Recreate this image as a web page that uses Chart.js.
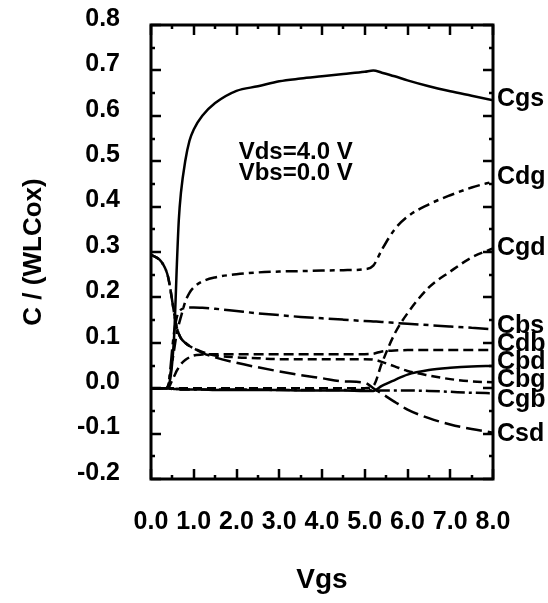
<!DOCTYPE html>
<html lang="en">
<head>
    <meta charset="UTF-8">
    <title>C / (WLCox) vs Vgs</title>
    <script src="https://cdn.jsdelivr.net/npm/chart.js"></script>
    <style>
        body {
            margin: 0;
            padding: 0;
            background-color: #ffffff;
        }
        #grafico {
            display: block;
        }
    </style>
</head>
<body>
    <canvas id="grafico" width="548" height="603"></canvas>

    <script>
        // Vgs sample points (V)
        const vgs = [0, 0.2, 0.3, 0.35, 0.4, 0.45, 0.5, 0.55, 0.6, 0.65, 0.7, 0.8, 0.9, 1.0, 1.2, 1.5,
                     2.0, 2.5, 3.0, 3.5, 4.0, 4.5, 5.0, 5.2, 5.4, 5.7, 6.0, 6.5, 7.0, 7.5, 8.0];

        // normalized capacitances
        const cgs = [0, 0, 0, 0, 0.005, 0.02, 0.06, 0.13, 0.26, 0.37, 0.43, 0.5, 0.545, 0.57, 0.6, 0.628,
                     0.655, 0.665, 0.676, 0.682, 0.687, 0.692, 0.697, 0.7, 0.695, 0.687, 0.678, 0.665, 0.654, 0.644, 0.634];
        const cdg = [0, 0, 0, 0, 0.005, 0.03, 0.06, 0.09, 0.12, 0.14, 0.157, 0.19, 0.21, 0.222, 0.235, 0.244,
                     0.251, 0.255, 0.257, 0.258, 0.259, 0.26, 0.262, 0.27, 0.305, 0.35, 0.378, 0.405, 0.425, 0.442, 0.455];
        const cgd = [0, 0, 0, 0, 0, 0, 0, 0, 0, 0, 0, 0, 0, 0, 0, 0,
                     0, 0, 0, 0, 0, 0, 0, 0.005, 0.055, 0.12, 0.165, 0.222, 0.257, 0.288, 0.308];
        const cbs = [0, 0, 0, 0, 0.005, 0.04, 0.09, 0.13, 0.155, 0.167, 0.173, 0.177, 0.178, 0.178, 0.177, 0.175,
                     0.17, 0.165, 0.161, 0.157, 0.154, 0.151, 0.148, 0.147, 0.146, 0.144, 0.142, 0.139, 0.136, 0.133, 0.13];
        const cdb = [0, 0, 0, 0, 0, 0.008, 0.018, 0.028, 0.038, 0.046, 0.053, 0.062, 0.068, 0.072, 0.074, 0.075,
                     0.075, 0.075, 0.075, 0.075, 0.075, 0.075, 0.075, 0.076, 0.081, 0.083, 0.084, 0.084, 0.084, 0.084, 0.084];
        const cbd = [0, 0, 0, 0, 0, 0, -0.001, -0.002, -0.002, -0.002, -0.003, -0.003, -0.003, -0.003, -0.003, -0.004,
                     -0.004, -0.004, -0.004, -0.005, -0.005, -0.005, -0.006, -0.006, 0.005, 0.018, 0.03, 0.04, 0.045, 0.048, 0.049];
        const cbg = [0.294, 0.283, 0.27, 0.26, 0.245, 0.22, 0.19, 0.16, 0.135, 0.12, 0.11, 0.1, 0.093, 0.088, 0.08, 0.072,
                     0.068, 0.066, 0.064, 0.064, 0.064, 0.064, 0.064, 0.063, 0.058, 0.048, 0.038, 0.028, 0.02, 0.015, 0.013];
        const cgb = [0, 0, 0, 0, 0, -0.001, -0.002, -0.002, -0.002, -0.002, -0.003, -0.003, -0.003, -0.003, -0.003, -0.003,
                     -0.003, -0.003, -0.004, -0.004, -0.004, -0.004, -0.004, -0.005, -0.005, -0.005, -0.005, -0.006, -0.008, -0.01, -0.011];
        const csd = [0.294, 0.283, 0.27, 0.26, 0.245, 0.22, 0.19, 0.16, 0.135, 0.12, 0.11, 0.1, 0.093, 0.088, 0.078, 0.068,
                     0.056, 0.046, 0.037, 0.029, 0.022, 0.015, 0.012, 0.0, -0.012, -0.03, -0.047, -0.066, -0.08, -0.09, -0.098];

        // curve names at the right edge and where they sit (C/(WLCox) units)
        const nombres = ['Cgs', 'Cdg', 'Cgd', 'Cbs', 'Cdb', 'Cbd', 'Cbg', 'Cgb', 'Csd'];
        const posEtiquetas = [0.636, 0.466, 0.309, 0.137, 0.097, 0.057, 0.018, -0.026, -0.101];

        const series = [cgs, cdg, cgd, cbs, cdb, cbd, cbg, cgb, csd];
        const trazos = [[], [12, 5, 5, 5], [9, 5], [20, 5, 5, 5], [10, 5], [], [9, 5], [14, 4, 3, 4], [16, 6]];

        const fuente = '"Liberation Sans", Arial, sans-serif';

        const marco = {
            id: 'marco',
            afterDatasetsDraw(chart) {
                const {ctx, chartArea: a, scales: {x, y}} = chart;
                ctx.save();
                ctx.strokeStyle = '#000';
                ctx.lineWidth = 3;
                ctx.strokeRect(a.left, a.top, a.right - a.left, a.bottom - a.top);
                ctx.lineWidth = 2.5;
                ctx.beginPath();
                for (let v = -0.2; v <= 0.801; v += 0.05) {
                    const py = Math.round(y.getPixelForValue(v));
                    const mayor = Math.abs(Math.round(v * 20)) % 2 === 0;
                    const l = mayor ? 10 : 4;
                    ctx.moveTo(a.left, py); ctx.lineTo(a.left + l, py);
                    ctx.moveTo(a.right, py); ctx.lineTo(a.right - l, py);
                }
                for (let v = 0; v <= 8; v += 0.5) {
                    const px = Math.round(x.getPixelForValue(v));
                    const l = (v % 1 === 0) ? 10 : 4;
                    ctx.moveTo(px, a.bottom); ctx.lineTo(px, a.bottom - l);
                    ctx.moveTo(px, a.top); ctx.lineTo(px, a.top + l);
                }
                ctx.stroke();
                ctx.restore();
            },
            afterDraw(chart) {
                const {ctx, chartArea: a, scales: {x, y}} = chart;
                ctx.save();
                ctx.fillStyle = '#000';
                ctx.font = 'bold 25px ' + fuente;
                ctx.textBaseline = 'middle';
                ctx.textAlign = 'left';
                nombres.forEach((n, i) => {
                    ctx.fillText(n, a.right + 4, y.getPixelForValue(posEtiquetas[i]));
                });
                ctx.font = 'bold 24px ' + fuente;
                ctx.fillText('Vds=4.0 V', x.getPixelForValue(2.05), y.getPixelForValue(0.52));
                ctx.fillText('Vbs=0.0 V', x.getPixelForValue(2.05), y.getPixelForValue(0.474));
                ctx.restore();
            }
        };

        new Chart(document.getElementById('grafico'), {
            type: 'line',
            data: {
                labels: vgs,
                datasets: series.map((d, i) => ({
                    label: nombres[i],
                    data: vgs.map((v, j) => ({x: v, y: d[j]})),
                    borderColor: '#000',
                    borderWidth: 2.5,
                    borderDash: trazos[i],
                    pointRadius: 0,
                    fill: false,
                    cubicInterpolationMode: 'monotone'
                }))
            },
            options: {
                responsive: false,
                animation: false,
                devicePixelRatio: 1,
                layout: {padding: {top: 25, right: 55, left: 0, bottom: 0}},
                plugins: {
                    legend: {display: false},
                    tooltip: {enabled: false}
                },
                scales: {
                    x: {
                        type: 'linear',
                        min: 0,
                        max: 8,
                        grid: {display: false, drawTicks: false},
                        border: {display: false},
                        ticks: {
                            stepSize: 1,
                            padding: 28,
                            color: '#000',
                            font: {family: fuente, size: 25, weight: 'bold'},
                            maxRotation: 0,
                            autoSkip: false,
                            callback: v => v.toFixed(1)
                        },
                        title: {
                            display: true,
                            text: 'Vgs',
                            color: '#000',
                            font: {family: fuente, size: 28, weight: 'bold'},
                            padding: {top: 0, bottom: 6}
                        },
                        afterFit(s) { s.height = 124; }
                    },
                    y: {
                        min: -0.2,
                        max: 0.8,
                        grid: {display: false, drawTicks: true, tickLength: 21},
                        border: {display: false},
                        ticks: {
                            stepSize: 0.1,
                            padding: 10,
                            labelOffset: -6,
                            color: '#000',
                            font: {family: fuente, size: 25, weight: 'bold'},
                            callback: v => v.toFixed(1)
                        },
                        title: {
                            display: true,
                            text: 'C / (WLCox)',
                            color: '#000',
                            font: {family: fuente, size: 26, weight: 'bold'},
                            padding: {top: 18, bottom: 0}
                        },
                        afterFit(s) { s.width = 151; }
                    }
                }
            },
            plugins: [marco]
        });
    </script>
</body>
</html>
